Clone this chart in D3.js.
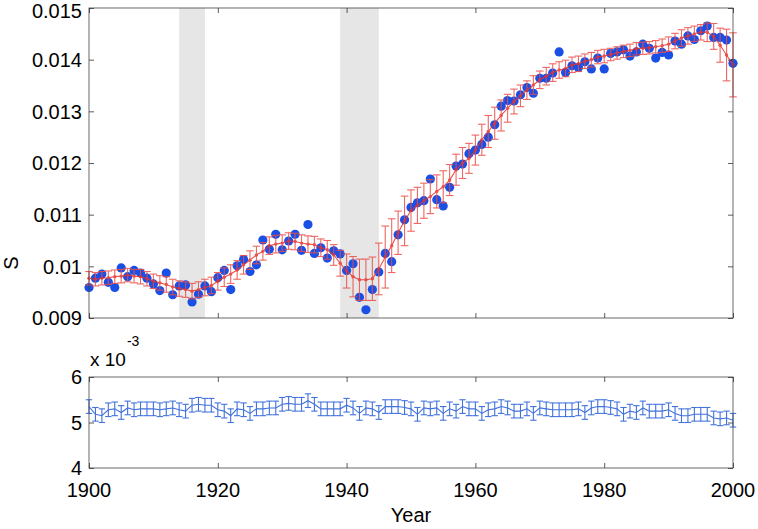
<!DOCTYPE html>
<html>
<head>
<meta charset="utf-8">
<script src="https://cdn.jsdelivr.net/npm/d3@7"></script>
<style>
  body { margin: 0; background: #fff; }
  text { font-family: "Liberation Sans", Arial, Helvetica, sans-serif; fill: #000; }
</style>
</head>
<body>
<script>
// years 1900..2000, values in units of 1e-3
var years = d3.range(1900, 2001);

var sObserved = [
  9.59, 9.77, 9.85, 9.69, 9.59, 9.97, 9.80, 9.92, 9.87, 9.77,
  9.66, 9.53, 9.87, 9.45, 9.62, 9.64, 9.31, 9.46, 9.62, 9.51,
  9.78, 9.92, 9.55, 10.01, 10.13, 9.90, 10.03, 10.51, 10.33, 10.62,
  10.32, 10.49, 10.62, 10.31, 10.81, 10.25, 10.36, 10.16, 10.30, 10.24,
  9.92, 10.05, 9.40, 9.16, 9.55, 9.89, 10.25, 10.09, 10.61, 10.90,
  11.14, 11.23, 11.27, 11.69, 11.29, 11.17, 11.53, 11.94, 11.98, 12.18,
  12.25, 12.36, 12.50, 12.74, 13.10, 13.21, 13.20, 13.32, 13.46, 13.35,
  13.64, 13.64, 13.74, 14.15, 13.75, 13.88, 13.85, 13.96, 13.82, 14.03,
  13.82, 14.12, 14.15, 14.19, 14.07, 14.15, 14.30, 14.22, 14.03, 14.14,
  14.09, 14.36, 14.30, 14.46, 14.39, 14.56, 14.65, 14.43, 14.43, 14.38,
  13.93
];

var sSmooth = [
  9.77, 9.75, 9.77, 9.78, 9.80, 9.81, 9.83, 9.81, 9.80, 9.76,
  9.71, 9.68, 9.65, 9.60, 9.57, 9.55, 9.52, 9.55, 9.59, 9.63,
  9.71, 9.79, 9.85, 9.93, 10.03, 10.12, 10.22, 10.29, 10.40, 10.43,
  10.45, 10.49, 10.48, 10.45, 10.43, 10.42, 10.36, 10.32, 10.22, 10.06,
  9.91, 9.80, 9.74, 9.74, 9.76, 9.95, 10.18, 10.40, 10.65, 10.88,
  11.08, 11.18, 11.27, 11.35, 11.45, 11.54, 11.67, 11.87, 12.00, 12.09,
  12.25, 12.45, 12.61, 12.77, 12.92, 13.06, 13.19, 13.30, 13.41, 13.51,
  13.61, 13.68, 13.75, 13.80, 13.83, 13.90, 13.92, 13.97, 14.00, 14.05,
  14.07, 14.10, 14.13, 14.16, 14.18, 14.21, 14.22, 14.23, 14.25, 14.27,
  14.30, 14.36, 14.42, 14.46, 14.50, 14.53, 14.53, 14.45, 14.28, 14.09,
  13.90
];

var sSmoothErr = [
  0.13, 0.13, 0.13, 0.13, 0.13, 0.13, 0.13, 0.13, 0.14, 0.14,
  0.14, 0.14, 0.15, 0.15, 0.15, 0.15, 0.15, 0.15, 0.16, 0.16,
  0.17, 0.18, 0.18, 0.18, 0.18, 0.18, 0.17, 0.17, 0.17, 0.17,
  0.16, 0.16, 0.16, 0.16, 0.16, 0.16, 0.17, 0.18, 0.20, 0.25,
  0.33, 0.39, 0.40, 0.40, 0.42, 0.50, 0.60, 0.52, 0.42, 0.48,
  0.40, 0.35, 0.34, 0.33, 0.32, 0.31, 0.30, 0.30, 0.30, 0.29,
  0.29, 0.30, 0.31, 0.31, 0.30, 0.27, 0.24, 0.21, 0.18, 0.18,
  0.17, 0.17, 0.17, 0.16, 0.16, 0.15, 0.15, 0.14, 0.14, 0.13,
  0.13, 0.12, 0.12, 0.12, 0.12, 0.12, 0.12, 0.12, 0.12, 0.13,
  0.14, 0.15, 0.16, 0.16, 0.15, 0.15, 0.18, 0.25, 0.33, 0.50,
  0.62
];

var sNull = [
  5.35, 5.18, 5.15, 5.28, 5.30, 5.22, 5.32, 5.28, 5.30, 5.30,
  5.30, 5.28, 5.30, 5.32, 5.28, 5.25, 5.38, 5.40, 5.38, 5.38,
  5.28, 5.25, 5.15, 5.30, 5.28, 5.20, 5.30, 5.30, 5.32, 5.32,
  5.40, 5.42, 5.40, 5.40, 5.48, 5.40, 5.30, 5.30, 5.30, 5.30,
  5.38, 5.32, 5.20, 5.32, 5.30, 5.22, 5.35, 5.35, 5.35, 5.33,
  5.30, 5.18, 5.32, 5.30, 5.32, 5.20, 5.30, 5.25, 5.35, 5.30,
  5.30, 5.20, 5.28, 5.30, 5.35, 5.32, 5.25, 5.25, 5.30, 5.20,
  5.32, 5.30, 5.28, 5.28, 5.28, 5.28, 5.30, 5.22, 5.32, 5.35,
  5.35, 5.33, 5.30, 5.18, 5.25, 5.22, 5.32, 5.25, 5.25, 5.25,
  5.28, 5.20, 5.15, 5.15, 5.18, 5.18, 5.18, 5.10, 5.08, 5.10,
  5.05
];
var sNullErr = 0.15;

var warBands = [[1914, 1918], [1939, 1945]];
var xTicks = [1900, 1920, 1940, 1960, 1980, 2000];
var topTicks = [9, 10, 11, 12, 13, 14, 15];
var topTickLabels = ["0.009", "0.01", "0.011", "0.012", "0.013", "0.014", "0.015"];
var botTicks = [4, 5, 6];

var width = 758, height = 529;
var left = 89, right = 733;

var svg = d3.select("body").append("svg")
  .attr("width", width)
  .attr("height", height);

var x = d3.scaleLinear().domain([1900, 2000]).range([left, right]);
var yTop = d3.scaleLinear().domain([9, 15]).range([318, 8]);
var yBot = d3.scaleLinear().domain([4, 6]).range([468, 377]);

// shaded war years
svg.append("g").selectAll("rect")
  .data(warBands)
  .enter().append("rect")
  .attr("x", function(d) { return x(d[0]); })
  .attr("width", function(d) { return x(d[1]) - x(d[0]); })
  .attr("y", yTop(15))
  .attr("height", yTop(9) - yTop(15))
  .attr("fill", "#e6e6e6");

var topData = years.map(function(yr, i) {
  return { year: yr, obs: sObserved[i], sm: sSmooth[i], err: sSmoothErr[i] };
});

// observed points
svg.append("g").selectAll("circle")
  .data(topData)
  .enter().append("circle")
  .attr("cx", function(d) { return x(d.year); })
  .attr("cy", function(d) { return yTop(d.obs); })
  .attr("r", 4.6)
  .attr("fill", "#1a4fe6");

// smoothed line + error bars
var red = svg.append("g").attr("opacity", 0.85);
function errBars(g, data, xs, ys, val, err, color, cap, sw) {
  var eb = g.append("g").selectAll("g")
    .data(data)
    .enter().append("g")
    .attr("stroke", color)
    .attr("stroke-width", sw);
  eb.append("line")
    .attr("x1", function(d) { return xs(d.year); })
    .attr("x2", function(d) { return xs(d.year); })
    .attr("y1", function(d) { return ys(val(d) - err(d)); })
    .attr("y2", function(d) { return ys(val(d) + err(d)); });
  [-1, 1].forEach(function(s) {
    eb.append("line")
      .attr("x1", function(d) { return xs(d.year) - cap; })
      .attr("x2", function(d) { return xs(d.year) + cap; })
      .attr("y1", function(d) { return ys(val(d) + s * err(d)); })
      .attr("y2", function(d) { return ys(val(d) + s * err(d)); });
  });
}

errBars(red, topData, x, yTop, function(d) { return d.sm; }, function(d) { return d.err; }, "#ec4d47", 3.8, 1.1);

red.append("path")
  .datum(topData)
  .attr("fill", "none")
  .attr("stroke", "#e8332e")
  .attr("stroke-width", 1.1)
  .attr("d", d3.line()
    .x(function(d) { return x(d.year); })
    .y(function(d) { return yTop(d.sm); }));

red.append("g").selectAll("circle")
  .data(topData)
  .enter().append("circle")
  .attr("cx", function(d) { return x(d.year); })
  .attr("cy", function(d) { return yTop(d.sm); })
  .attr("r", 1.7)
  .attr("fill", "#e8332e");

// bottom panel
var botData = years.map(function(yr, i) { return { year: yr, v: sNull[i] }; });
var blue = svg.append("g");
errBars(blue, botData, x, yBot, function(d) { return d.v; }, function() { return sNullErr; }, "#4272dc", 3.2, 1.1);
blue.append("path")
  .datum(botData)
  .attr("fill", "none")
  .attr("stroke", "#4272dc")
  .attr("stroke-width", 1.1)
  .attr("d", d3.line()
    .x(function(d) { return x(d.year); })
    .y(function(d) { return yBot(d.v); }));

// frames and ticks, matlab style (inward ticks on all sides)
function frame(ys, y0, y1, ticks, labels, showX) {
  var g = svg.append("g");
  var yA = ys(y0), yB = ys(y1);
  g.append("rect")
    .attr("x", left).attr("y", yB)
    .attr("width", right - left).attr("height", yA - yB)
    .attr("fill", "none").attr("stroke", "#444").attr("stroke-width", 0.8);

  g.append("g")
    .attr("transform", "translate(0," + yA + ")")
    .call(d3.axisTop(x).tickValues(xTicks).tickSize(5).tickFormat(""));
  g.append("g")
    .attr("transform", "translate(0," + yB + ")")
    .call(d3.axisBottom(x).tickValues(xTicks).tickSize(5).tickFormat(""));
  g.append("g")
    .attr("transform", "translate(" + left + ",0)")
    .call(d3.axisRight(ys).tickValues(ticks).tickSize(5).tickFormat(""));
  g.append("g")
    .attr("transform", "translate(" + right + ",0)")
    .call(d3.axisLeft(ys).tickValues(ticks).tickSize(5).tickFormat(""));
  g.selectAll(".domain").remove();
  g.selectAll(".tick line").attr("stroke", "#333").attr("stroke-width", 0.8);

  g.append("g").selectAll("text")
    .data(ticks)
    .enter().append("text")
    .attr("x", left - 7)
    .attr("y", function(d) { return Math.max(ys(d) + 7.2, 18); })
    .attr("text-anchor", "end")
    .style("font-size", "20px")
    .text(function(d, i) { return labels[i]; });

  if (showX) {
    g.append("g").selectAll("text")
      .data(xTicks)
      .enter().append("text")
      .attr("x", function(d) { return x(d); })
      .attr("y", 497)
      .attr("text-anchor", "middle")
      .style("font-size", "20px")
      .text(function(d) { return d; });
  }
}

frame(yTop, 9, 15, topTicks, topTickLabels, false);
frame(yBot, 4, 6, botTicks, botTicks.map(String), true);

// exponent label
var ex = svg.append("text")
  .attr("x", 90)
  .attr("y", 366)
  .style("font-size", "19px");
ex.append("tspan").text("x 10");
ex.append("tspan").attr("dy", -20).attr("dx", 1).style("font-size", "14px").text("-3");

svg.append("text")
  .attr("x", (left + right) / 2)
  .attr("y", 522)
  .attr("text-anchor", "middle")
  .style("font-size", "20px")
  .text("Year");

svg.append("text")
  .attr("transform", "translate(18,263) rotate(-90)")
  .attr("text-anchor", "middle")
  .style("font-size", "20px")
  .text("S");
</script>
</body>
</html>
